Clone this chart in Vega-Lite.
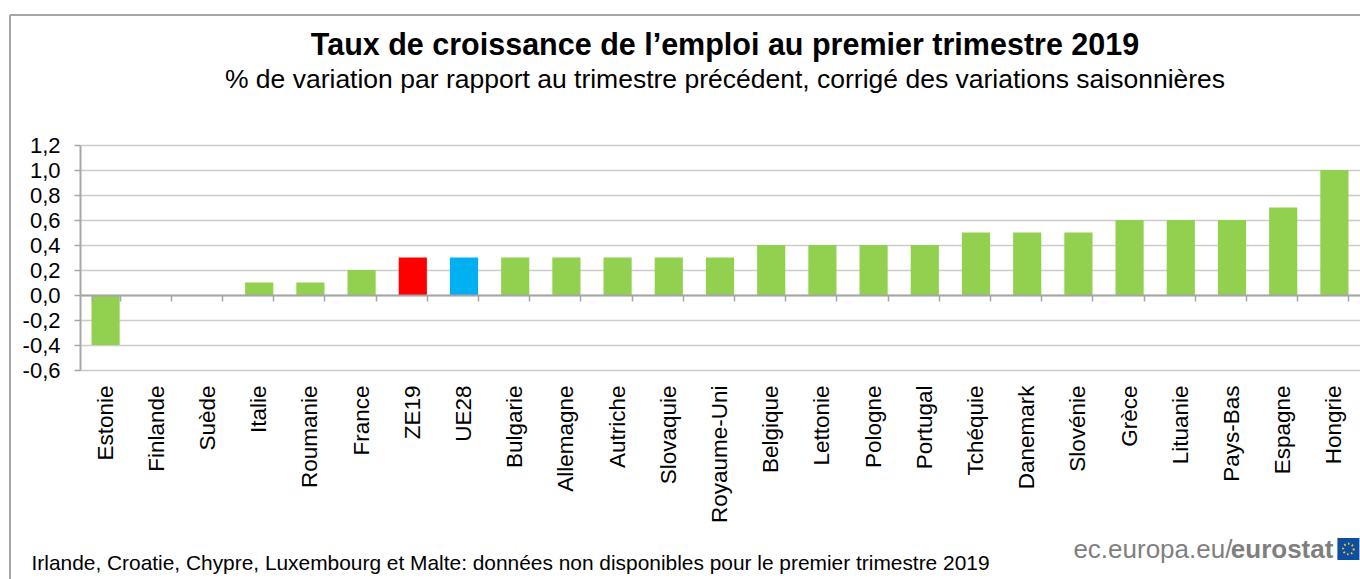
{
"$schema":"https://vega.github.io/schema/vega-lite/v6.json",
"width":1280,"height":225,
"autosize":{"type":"none"},
"padding":{"left":80,"top":145,"right":0,"bottom":209},
"background":"white",
"title":{"text":"Taux de croissance de l’emploi au premier trimestre 2019","subtitle":"% de variation par rapport au trimestre précédent, corrigé des variations saisonnières","anchor":"middle","frame":"group","dx":5,"offset":-79,"font":"Liberation Sans","fontSize":30.5,"fontWeight":"bold","color":"#000000","subtitleFont":"Liberation Sans","subtitleFontSize":26.5,"subtitleColor":"#000000","subtitlePadding":5},
"config":{"view":{"stroke":null},"font":"Liberation Sans"},
"data":{"values":[
{"pays":"Estonie","taux":-0.4,"groupe":"pays"},{"pays":"Finlande","taux":0,"groupe":"pays"},{"pays":"Suède","taux":0,"groupe":"pays"},{"pays":"Italie","taux":0.1,"groupe":"pays"},{"pays":"Roumanie","taux":0.1,"groupe":"pays"},{"pays":"France","taux":0.2,"groupe":"pays"},{"pays":"ZE19","taux":0.3,"groupe":"ZE19"},{"pays":"UE28","taux":0.3,"groupe":"UE28"},{"pays":"Bulgarie","taux":0.3,"groupe":"pays"},{"pays":"Allemagne","taux":0.3,"groupe":"pays"},{"pays":"Autriche","taux":0.3,"groupe":"pays"},{"pays":"Slovaquie","taux":0.3,"groupe":"pays"},{"pays":"Royaume-Uni","taux":0.3,"groupe":"pays"},{"pays":"Belgique","taux":0.4,"groupe":"pays"},{"pays":"Lettonie","taux":0.4,"groupe":"pays"},{"pays":"Pologne","taux":0.4,"groupe":"pays"},{"pays":"Portugal","taux":0.4,"groupe":"pays"},{"pays":"Tchéquie","taux":0.5,"groupe":"pays"},{"pays":"Danemark","taux":0.5,"groupe":"pays"},{"pays":"Slovénie","taux":0.5,"groupe":"pays"},{"pays":"Grèce","taux":0.6,"groupe":"pays"},{"pays":"Lituanie","taux":0.6,"groupe":"pays"},{"pays":"Pays-Bas","taux":0.6,"groupe":"pays"},{"pays":"Espagne","taux":0.7,"groupe":"pays"},{"pays":"Hongrie","taux":1.0,"groupe":"pays"}
]},
"resolve":{"axis":{"x":"independent"}},
"layer":[
{"mark":{"type":"bar","clip":false},
"encoding":{
"x":{"field":"pays","type":"nominal","sort":null,"scale":{"paddingInner":0.45,"paddingOuter":0.225},
"axis":{"title":"Irlande, Croatie, Chypre, Luxembourg et Malte: données non disponibles pour le premier trimestre 2019","titleFont":"Liberation Sans","titleFontSize":20.9,"titleFontWeight":"normal","titleColor":"#000000","titleAnchor":"start","titleAlign":"left","titleBaseline":"alphabetic","titleX":-49,"titleY":199,"labelAngle":-90,"labelAlign":"right","labelBaseline":"middle","labelFont":"Liberation Sans","labelFontSize":22.5,"labelColor":"#000000","labelPadding":15,"ticks":false,"domain":false,"grid":false,"labelOverlap":false}},
"y":{"field":"taux","type":"quantitative","scale":{"domain":[-0.6,1.2],"nice":false,"zero":false},
"axis":{"title":null,"values":[-0.6,-0.4,-0.2,0,0.2,0.4,0.6,0.8,1,1.2],"tickCount":10,"labelExpr":"replace(replace(format(datum.value,'.1f'),'.',','),'−','-')","labelOverlap":false,"labelFont":"Liberation Sans","labelFontSize":22,"labelColor":"#000000","labelPadding":14,"labelSeparation":0,"tickColor":"#a6a6a6","tickSize":6,"tickWidth":1.5,"domainColor":"#a6a6a6","domainWidth":2,"gridColor":"#cccccc","gridWidth":1.5,"grid":true}},
"color":{"field":"groupe","type":"nominal","scale":{"domain":["pays","ZE19","UE28"],"range":["#92D050","#FF0000","#00B0F0"]},"legend":null}
}},
{"data":{"values":[{"ligne":"zero"}]},
"mark":{"type":"rule","opacity":0},
"encoding":{
"x":{"datum":"Estonie","type":"nominal","axis":{"orient":"top","title":null,"offset":-150,"labels":false,"ticks":true,"tickBand":"extent","tickOffset":11.5,"tickSize":-6,"tickColor":"#a6a6a6","tickWidth":1.5,"domain":true,"domainColor":"#a6a6a6","domainWidth":2,"grid":false,"zindex":1}}
}},
{"data":{"values":[{"cadre":"haut"}]},
"mark":{"type":"rule","color":"#a6a6a6","strokeWidth":2,"xOffset":-95.6,"x2Offset":26},
"encoding":{"x":{"datum":"Estonie","type":"nominal","axis":null},"x2":{"datum":"Hongrie"},"y":{"datum":2.24,"type":"quantitative"}}},
{"data":{"values":[{"cadre":"gauche"}]},
"mark":{"type":"rule","color":"#a6a6a6","strokeWidth":2,"xOffset":-95.6},
"encoding":{"x":{"datum":"Estonie","type":"nominal","axis":null},"y":{"datum":2.24,"type":"quantitative"},"y2":{"datum":-2.28}}},
{"data":{"values":[{"logo":"ec.europa.eu/"}]},
"mark":{"type":"text","align":"right","baseline":"alphabetic","font":"Liberation Sans","fontSize":26,"color":"#7f7f7f","dx":-102},
"encoding":{"x":{"datum":"Hongrie","type":"nominal","axis":null},"y":{"datum":-2.104,"type":"quantitative"},"text":{"field":"logo"}}},
{"data":{"values":[{"logo":"eurostat"}]},
"mark":{"type":"text","align":"right","baseline":"alphabetic","font":"Liberation Sans","fontSize":26,"fontWeight":"bold","color":"#7f7f7f","dx":-1},
"encoding":{"x":{"datum":"Hongrie","type":"nominal","axis":null},"y":{"datum":-2.104,"type":"quantitative"},"text":{"field":"logo"}}},
{"data":{"values":[{"logo":"drapeau"}]},
"mark":{"type":"point","shape":"square","filled":true,"size":484,"color":"#0b4ea2","opacity":1,"xOffset":14},
"encoding":{"x":{"datum":"Hongrie","type":"nominal","axis":null},"y":{"datum":-2.032,"type":"quantitative"}}},
{"data":{"values":[{"logo":"etoiles"}]},
"mark":{"type":"point","shape":"circle","filled":false,"size":113,"stroke":"#ffcc00","strokeWidth":2,"strokeDash":[1.5,2.5],"opacity":1,"xOffset":14},
"encoding":{"x":{"datum":"Hongrie","type":"nominal","axis":null},"y":{"datum":-2.032,"type":"quantitative"}}}
]
}
